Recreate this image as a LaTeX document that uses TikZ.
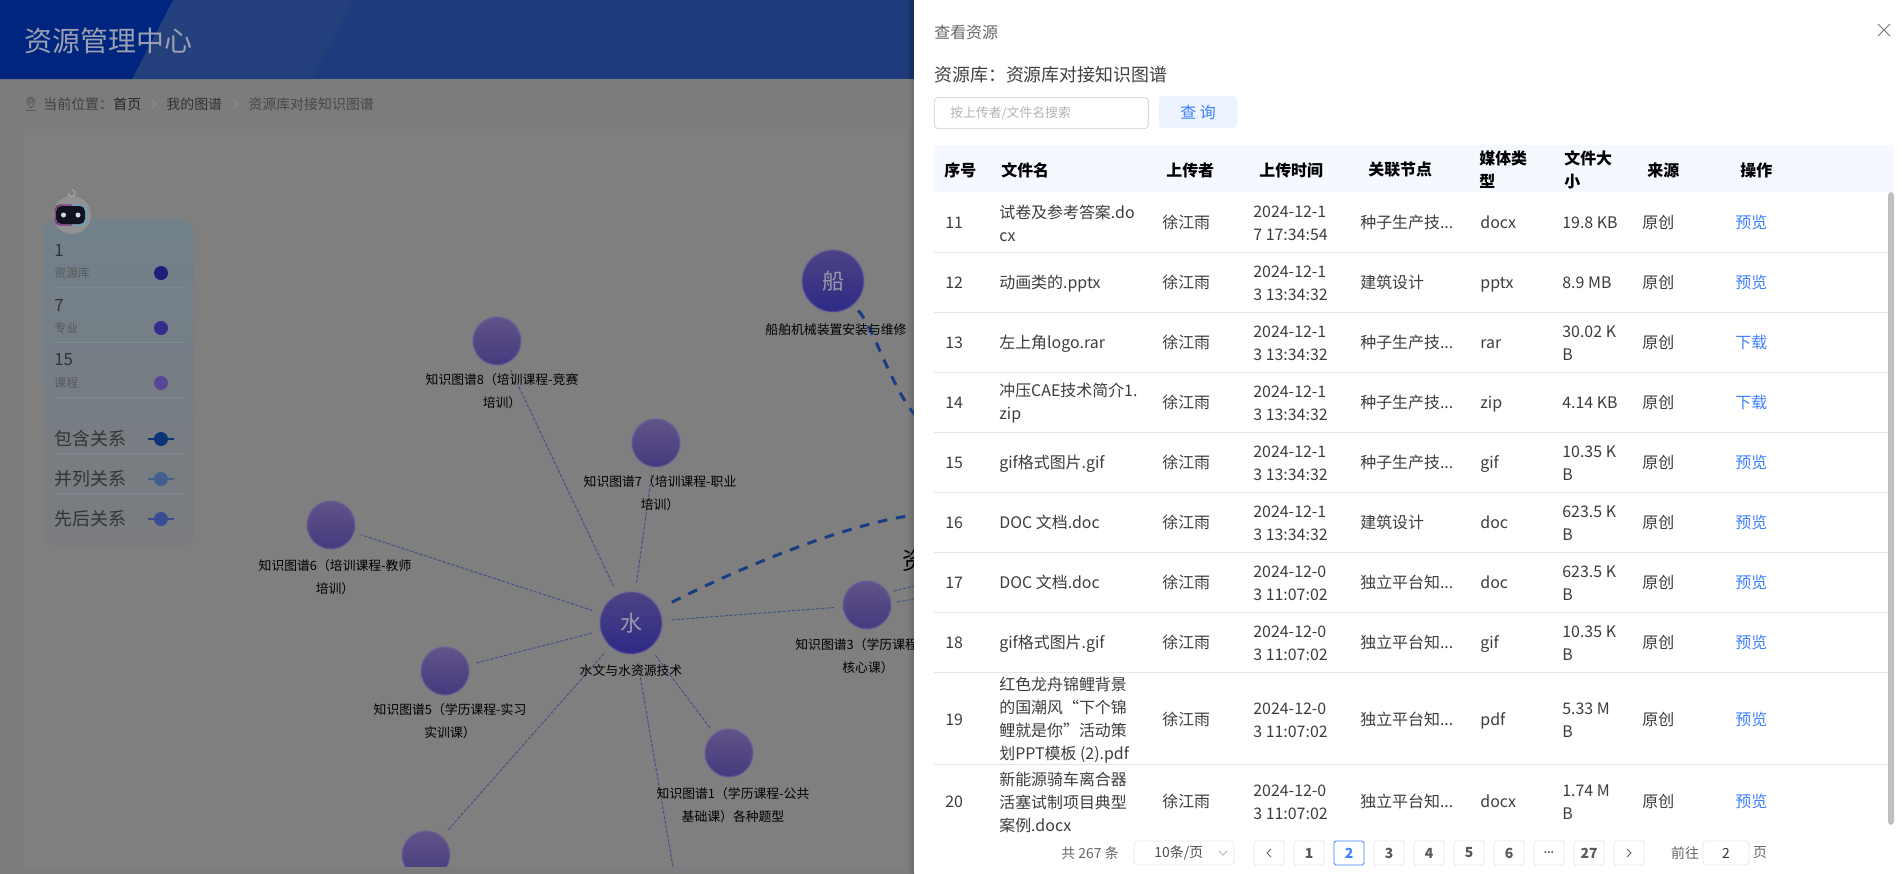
\documentclass[tikz,border=0pt]{standalone}
\usepackage{fontspec}
\setmainfont{Noto Sans CJK SC}
\definecolor{pagegray}{HTML}{7C7C7E}
\definecolor{panelgray}{HTML}{7F7F7F}
\definecolor{headdark}{HTML}{00257F}
\definecolor{headmid}{HTML}{24407C}
\definecolor{headblue}{HTML}{1E3B7D}
\definecolor{titlegray}{HTML}{9AA0B0}
\definecolor{bodytext}{HTML}{3D3D3D}
\definecolor{linkblue}{HTML}{4080FF}
\definecolor{rulegray}{HTML}{E6E6E8}
\definecolor{edgeblue}{HTML}{3F5285}
\definecolor{boldblue}{HTML}{173D85}
\definecolor{smalltop}{HTML}{625388}
\definecolor{smallbot}{HTML}{443A7E}
\definecolor{largetop}{HTML}{4C4384}
\definecolor{largebot}{HTML}{2E2A86}
\definecolor{largetext}{HTML}{9A9AAB}
\definecolor{halo}{HTML}{6B5FA0}
\definecolor{buttonblue}{HTML}{ECF2FE}
\definecolor{tablehead}{HTML}{F5F8FF}
\definecolor{legendtop}{HTML}{72808A}
\definecolor{legendbot}{HTML}{7A7C7F}
\definecolor{legendline}{HTML}{808790}
\definecolor{dotlibrary}{HTML}{1E1E7A}
\definecolor{dotmajor}{HTML}{362C8C}
\definecolor{dotcourse}{HTML}{5A4696}
\definecolor{relcontain}{HTML}{0A3478}
\definecolor{relparallel}{HTML}{41608F}
\definecolor{relorder}{HTML}{394C94}
\definecolor{robotbody}{HTML}{929292}
\definecolor{robotface}{HTML}{10131F}
\tikzset{
  every node/.style={inner sep=0pt},
  small/.style={circle,minimum size=0.96cm,top color=smalltop,bottom color=smallbot,draw=halo,draw opacity=.5,line width=1pt},
  large/.style={circle,minimum size=1.24cm,top color=largetop,bottom color=largebot,draw=halo,draw opacity=.5,line width=1pt,text=largetext,font=\fontsize{12.5}{15}\selectfont},
  graphlabel/.style={align=center,text=black,font=\fontsize{7.3}{13}\selectfont},
  link/.style={edgeblue,line width=0.55pt,dash pattern=on 1.9pt off 0.85pt,shorten <=5pt,shorten >=4pt},
  linkbold/.style={boldblue,line width=1.7pt,dash pattern=on 5.5pt off 5pt,shorten <=8pt},
  crumb/.style={anchor=west,font=\fontsize{7.94}{10}\selectfont},
  legend/.style={anchor=west,text=black!80,font=\fontsize{10.2}{12}\selectfont},
  legendsub/.style={anchor=west,text=black!65,font=\fontsize{6.8}{9}\selectfont},
  legendnum/.style={anchor=west,text=black!80,font=\fontsize{9.6}{12}\selectfont},
  legenddot/.style={circle,minimum size=0.28cm},
  legendrule/.style={legendline,line width=0.4pt},
  cell/.style={anchor=west,text height=8.8pt,text depth=1.6pt,text=bodytext,font=\fontsize{9.07}{13.04}\selectfont},
  cellwrap/.style={anchor=west,align=left,yshift=-0.6pt,text=bodytext,font=\fontsize{9.07}{13.04}\selectfont},
  headcell/.style={anchor=west,align=left,text=black,font=\fontsize{9.07}{13.04}\selectfont\bfseries},
  action/.style={cell,text=linkblue},
  rowline/.style={rulegray,line width=0.55pt},
  pagebtn/.style={rectangle,draw=rulegray,rounded corners=1pt,line width=0.5pt,minimum width=0.6cm,minimum height=0.48cm,text=black!65,font=\fontsize{7.94}{10}\selectfont\bfseries},
  pagetext/.style={text=black!60,font=\fontsize{7.94}{10}\selectfont}
}
\begin{document}
\begin{tikzpicture}[x=0.02cm,y=-0.02cm]
\useasboundingbox (0,0) rectangle (1902,873);
\fill[pagegray] (0,0) rectangle (1902,873);
\fill[panelgray] (24,129) rectangle (914,867);

% header band
\fill[headblue] (0,0) rectangle (914,79);
\fill[headmid] (173,0) -- (353,0) -- (312,79) -- (132,79) -- cycle;
\fill[headdark] (0,0) -- (173,0) -- (132,79) -- (0,79) -- cycle;
\node[anchor=west,text=titlegray,font=\fontsize{15.9}{18}\selectfont] (title) at (24,41) {资源管理中心};

% breadcrumb
\draw[black!65,line width=0.5pt] (31,108) .. controls (26,103) and (26,98) .. (31,97) .. controls (36,98) and (36,103) .. (31,108);
\draw[black!65,line width=0.5pt] (31,101) circle (2);
\draw[black!65,line width=0.5pt] (26,110) -- (36,110);
\node[crumb,text=black!75] (here) at (43,104) {当前位置：};
\node[crumb,text=black!85] (home) at (113,104) {首页};
\draw[black!45,line width=0.5pt] (151,99) -- (156,104) -- (151,109);
\node[crumb,text=black!80] (mine) at (166,104) {我的图谱};
\draw[black!45,line width=0.5pt] (233,99) -- (238,104) -- (233,109);
\node[crumb,text=black!72] (here2) at (248,104) {资源库对接知识图谱};

% legend panel
\shade[rounded corners=8pt,top color=legendtop,bottom color=legendbot] (44,219) rectangle (194,547);
\fill[robotbody] (72,215) circle (19);
\draw[cyan!50!gray,line width=0.8pt,rounded corners=3pt] (72,205) -- (86,205) -- (86,225) -- (72,225);
\draw[violet!60!gray,line width=0.8pt,rounded corners=3pt] (72,205) -- (55,205) -- (55,225) -- (72,225);
\fill[robotface,rounded corners=3pt] (56,206) rectangle (85,224);
\fill[white!70!gray] (63.5,215) circle (2.5);
\fill[white!70!gray] (78,215) circle (2.5);
\draw[white!30!gray,line width=0.6pt] (68,193) arc (180:-90:3.5);
\node[legendnum] (count1) at (54,250) {1};
\node[legendsub] (kind1) at (54,273) {资源库};
\node[legenddot,fill=dotlibrary] (dot1) at (161,273) {};
\draw[legendrule] (54,287.5) -- (184,287.5);
\node[legendnum] (count2) at (54,305) {7};
\node[legendsub] (kind2) at (54,328) {专业};
\node[legenddot,fill=dotmajor] (dot2) at (161,328) {};
\draw[legendrule] (54,342.5) -- (184,342.5);
\node[legendnum] (count3) at (54,360) {15};
\node[legendsub] (kind3) at (54,383) {课程};
\node[legenddot,fill=dotcourse] (dot3) at (161,383) {};
\draw[legendrule] (54,397) -- (184,397);
\node[legend] (rel1) at (54,439) {包含关系};
\draw[relcontain,line width=1pt] (148,439) -- (174,439);
\node[legenddot,fill=relcontain] (reldot1) at (161,439) {};
\draw[legendrule] (54,453.5) -- (184,453.5);
\node[legend] (rel2) at (54,479) {并列关系};
\draw[relparallel,line width=1pt] (148,479) -- (174,479);
\node[legenddot,fill=relparallel] (reldot2) at (161,479) {};
\draw[legendrule] (54,493.5) -- (184,493.5);
\node[legend] (rel3) at (54,519) {先后关系};
\draw[relorder,line width=1pt] (148,519) -- (174,519);
\node[legenddot,fill=relorder] (reldot3) at (161,519) {};

% shadow of the drawer
\shade[left color=headblue,right color=headblue!70!black] (906,0) rectangle (914,79);
\shade[left color=panelgray,right color=black!58] (906,79) rectangle (914,873);

% graph
\node[large] (ship) at (833,281) {船};
\node[large] (water) at (631,623) {水};
\node[small] (kg8) at (497,341) {};
\node[small] (kg7) at (656,443) {};
\node[small] (kg6) at (331,525) {};
\node[small] (kg5) at (445,671) {};
\node[small] (kg3) at (867,605) {};
\node[small] (kg1) at (729,753) {};
\node[small] (kgx) at (426,855) {};
\coordinate (hub) at (915,515);
\coordinate (hubtop) at (915,415);
\coordinate (down) at (673,867);
\coordinate (off1) at (914,586);
\coordinate (off2) at (914,599);

\draw[link] (water) -- (kg8);
\draw[link] (water) -- (kg7);
\draw[link] (water) -- (kg6);
\draw[link] (water) -- (kg5);
\draw[link] (water) -- (kg3);
\draw[link] (water) -- (kg1);
\draw[link] (water) -- (kgx);
\draw[link,shorten >=0pt] (water) -- (down);
\draw[link,shorten <=3pt,shorten >=0pt] (kg3.30) -- (off1);
\draw[link,shorten <=3pt,shorten >=0pt] (kg3.5) -- (off2);
\draw[linkbold] (water) .. controls (745,565) and (850,523) .. (hub);
\draw[linkbold,shorten <=4pt] (ship) .. controls (875,330) and (890,385) .. (hubtop);

\fill[pagegray] (0,867) rectangle (906,885);

\node[graphlabel] (shiplabel) at (836,330) {船舶机械装置安装与维修};
\node[graphlabel] (waterlabel) at (631,671) {水文与水资源技术};
\node[graphlabel] (kg8label) at (502,391) {知识图谱8（培训课程-竞赛\\培训）};
\node[graphlabel] (kg7label) at (660,493) {知识图谱7（培训课程-职业\\培训）};
\node[graphlabel] (kg6label) at (335,577) {知识图谱6（培训课程-教师\\培训）};
\node[graphlabel] (kg5label) at (450,721) {知识图谱5（学历课程-实习\\实训课）};
\node[graphlabel,anchor=west] (kg3line) at (795,645) {知识图谱3（学历课程};
\node[graphlabel] (kg3label) at (868,668) {核心课）};
\node[graphlabel] (kg1label) at (733,805) {知识图谱1（学历课程-公共\\基础课）各种题型};
\node[anchor=west,text=black,font=\fontsize{13.6}{16}\selectfont] (hublabel) at (902,560) {资};

% drawer
\fill[white] (914,0) rectangle (1902,873);
\node[anchor=west,text=black!60,font=\fontsize{9.07}{11}\selectfont] (drawertitle) at (934,32) {查看资源};
\draw[black!55,line width=0.55pt] (1878,24) -- (1890,36);
\draw[black!55,line width=0.55pt] (1890,24) -- (1878,36);
\node[anchor=west,text=black!75,font=\fontsize{10.2}{13}\selectfont] (library) at (934,75) {资源库：资源库对接知识图谱};
\node[anchor=west,rectangle,draw=black!15,rounded corners=2pt,line width=0.5pt,minimum width=4.28cm,minimum height=0.62cm] (search) at (934,113) {};
\node[anchor=west,text=black!30,font=\fontsize{7.3}{10}\selectfont] (hint) at (950,113) {按上传者/文件名搜索};
\node[rectangle,fill=buttonblue,rounded corners=2pt,minimum width=1.56cm,minimum height=0.64cm,text=linkblue,font=\fontsize{9.07}{11}\selectfont] (query) at (1198,112) {查 询};

% table
\fill[tablehead] (934,145) rectangle (1894,192);
\node[headcell] (hid) at (944,170) {序号};
\node[headcell] (hname) at (1001,170) {文件名};
\node[headcell] (huser) at (1166,170) {上传者};
\node[headcell] (htime) at (1259,170) {上传时间};
\node[headcell] (hnode) at (1368,170) {关联节点};
\node[headcell] (hmedia) at (1479,170) {媒体类\\型};
\node[headcell] (hsize) at (1564,170) {文件大\\小};
\node[headcell] (hsource) at (1647,170) {来源};
\node[headcell] (hop) at (1740,170) {操作};

\node[cell] (n11) at (945,222) {11};
\node[cellwrap] (f11) at (999,222) {试卷及参考答案.do\\cx};
\node[cell] (u11) at (1162,222) {徐江雨};
\node[cellwrap] (t11) at (1253,222) {2024-12-1\\7 17:34:54};
\node[cell] (r11) at (1360,222) {种子生产技...};
\node[cell] (m11) at (1480,222) {docx};
\node[cell] (s11) at (1562,222) {19.8 KB};
\node[cell] (o11) at (1642,222) {原创};
\node[action] (a11) at (1735,222) {预览};
\draw[rowline] (934,252) -- (1894,252);

\node[cell] (n12) at (945,282) {12};
\node[cell] (f12) at (999,282) {动画类的.pptx};
\node[cell] (u12) at (1162,282) {徐江雨};
\node[cellwrap] (t12) at (1253,282) {2024-12-1\\3 13:34:32};
\node[cell] (r12) at (1360,282) {建筑设计};
\node[cell] (m12) at (1480,282) {pptx};
\node[cell] (s12) at (1562,282) {8.9 MB};
\node[cell] (o12) at (1642,282) {原创};
\node[action] (a12) at (1735,282) {预览};
\draw[rowline] (934,312) -- (1894,312);

\node[cell] (n13) at (945,342) {13};
\node[cell] (f13) at (999,342) {左上角logo.rar};
\node[cell] (u13) at (1162,342) {徐江雨};
\node[cellwrap] (t13) at (1253,342) {2024-12-1\\3 13:34:32};
\node[cell] (r13) at (1360,342) {种子生产技...};
\node[cell] (m13) at (1480,342) {rar};
\node[cellwrap] (s13) at (1562,342) {30.02 K\\B};
\node[cell] (o13) at (1642,342) {原创};
\node[action] (a13) at (1735,342) {下载};
\draw[rowline] (934,372) -- (1894,372);

\node[cell] (n14) at (945,402) {14};
\node[cellwrap] (f14) at (999,402) {冲压CAE技术简介1.\\zip};
\node[cell] (u14) at (1162,402) {徐江雨};
\node[cellwrap] (t14) at (1253,402) {2024-12-1\\3 13:34:32};
\node[cell] (r14) at (1360,402) {种子生产技...};
\node[cell] (m14) at (1480,402) {zip};
\node[cell] (s14) at (1562,402) {4.14 KB};
\node[cell] (o14) at (1642,402) {原创};
\node[action] (a14) at (1735,402) {下载};
\draw[rowline] (934,432) -- (1894,432);

\node[cell] (n15) at (945,462) {15};
\node[cell] (f15) at (999,462) {gif格式图片.gif};
\node[cell] (u15) at (1162,462) {徐江雨};
\node[cellwrap] (t15) at (1253,462) {2024-12-1\\3 13:34:32};
\node[cell] (r15) at (1360,462) {种子生产技...};
\node[cell] (m15) at (1480,462) {gif};
\node[cellwrap] (s15) at (1562,462) {10.35 K\\B};
\node[cell] (o15) at (1642,462) {原创};
\node[action] (a15) at (1735,462) {预览};
\draw[rowline] (934,492) -- (1894,492);

\node[cell] (n16) at (945,522) {16};
\node[cell] (f16) at (999,522) {DOC 文档.doc};
\node[cell] (u16) at (1162,522) {徐江雨};
\node[cellwrap] (t16) at (1253,522) {2024-12-1\\3 13:34:32};
\node[cell] (r16) at (1360,522) {建筑设计};
\node[cell] (m16) at (1480,522) {doc};
\node[cellwrap] (s16) at (1562,522) {623.5 K\\B};
\node[cell] (o16) at (1642,522) {原创};
\node[action] (a16) at (1735,522) {预览};
\draw[rowline] (934,552) -- (1894,552);

\node[cell] (n17) at (945,582) {17};
\node[cell] (f17) at (999,582) {DOC 文档.doc};
\node[cell] (u17) at (1162,582) {徐江雨};
\node[cellwrap] (t17) at (1253,582) {2024-12-0\\3 11:07:02};
\node[cell] (r17) at (1360,582) {独立平台知...};
\node[cell] (m17) at (1480,582) {doc};
\node[cellwrap] (s17) at (1562,582) {623.5 K\\B};
\node[cell] (o17) at (1642,582) {原创};
\node[action] (a17) at (1735,582) {预览};
\draw[rowline] (934,612) -- (1894,612);

\node[cell] (n18) at (945,642) {18};
\node[cell] (f18) at (999,642) {gif格式图片.gif};
\node[cell] (u18) at (1162,642) {徐江雨};
\node[cellwrap] (t18) at (1253,642) {2024-12-0\\3 11:07:02};
\node[cell] (r18) at (1360,642) {独立平台知...};
\node[cell] (m18) at (1480,642) {gif};
\node[cellwrap] (s18) at (1562,642) {10.35 K\\B};
\node[cell] (o18) at (1642,642) {原创};
\node[action] (a18) at (1735,642) {预览};
\draw[rowline] (934,672) -- (1894,672);

\node[cell] (n19) at (945,719) {19};
\node[cellwrap] (f19) at (999,719) {红色龙舟锦鲤背景\\的国潮风“下个锦\\鲤就是你”活动策\\划PPT模板 (2).pdf};
\node[cell] (u19) at (1162,719) {徐江雨};
\node[cellwrap] (t19) at (1253,719) {2024-12-0\\3 11:07:02};
\node[cell] (r19) at (1360,719) {独立平台知...};
\node[cell] (m19) at (1480,719) {pdf};
\node[cellwrap] (s19) at (1562,719) {5.33 M\\B};
\node[cell] (o19) at (1642,719) {原创};
\node[action] (a19) at (1735,719) {预览};
\draw[rowline] (934,764) -- (1894,764);

\node[cell] (n20) at (945,801) {20};
\node[cellwrap] (f20) at (999,801) {新能源骑车离合器\\活塞试制项目典型\\案例.docx};
\node[cell] (u20) at (1162,801) {徐江雨};
\node[cellwrap] (t20) at (1253,801) {2024-12-0\\3 11:07:02};
\node[cell] (r20) at (1360,801) {独立平台知...};
\node[cell] (m20) at (1480,801) {docx};
\node[cellwrap] (s20) at (1562,801) {1.74 M\\B};
\node[cell] (o20) at (1642,801) {原创};
\node[action] (a20) at (1735,801) {预览};

\fill[black!25,rounded corners=2pt] (1888,192) rectangle (1894,825);

% pagination
\node[pagetext] (total) at (1090,853) {共 267 条};
\node[rectangle,draw=rulegray,rounded corners=2pt,line width=0.5pt,minimum width=2cm,minimum height=0.48cm] (sizer) at (1184,853) {};
\node[anchor=west,text=black!70,font=\fontsize{7.94}{10}\selectfont] (sizertext) at (1154,853) {10条/页};
\draw[black!30,line width=0.5pt] (1219,851) -- (1223,855) -- (1227,851);
\node[pagebtn] (prev) at (1269,853) {};
\draw[black!60,line width=0.5pt] (1271,849) -- (1267,853) -- (1271,857);
\node[pagebtn] (p1) at (1309,853) {1};
\node[pagebtn,draw=linkblue,text=linkblue] (p2) at (1349,853) {2};
\node[pagebtn] (p3) at (1389,853) {3};
\node[pagebtn] (p4) at (1429,853) {4};
\node[pagebtn] (p5) at (1469,853) {5};
\node[pagebtn] (p6) at (1509,853) {6};
\node[pagebtn,font=\fontsize{5.5}{7}\selectfont\bfseries] (pdots) at (1549,853) {...};
\node[pagebtn] (p27) at (1589,853) {27};
\node[pagebtn] (next) at (1629,853) {};
\draw[black!60,line width=0.5pt] (1627,849) -- (1631,853) -- (1627,857);
\node[pagetext] (goto) at (1685,853) {前往};
\node[rectangle,draw=rulegray,rounded corners=2pt,line width=0.5pt,minimum width=0.92cm,minimum height=0.48cm,text=black!80,font=\fontsize{7.94}{10}\selectfont] (pagebox) at (1726,853) {2};
\node[pagetext] (pageunit) at (1760,853) {页};
\end{tikzpicture}
\end{document}
